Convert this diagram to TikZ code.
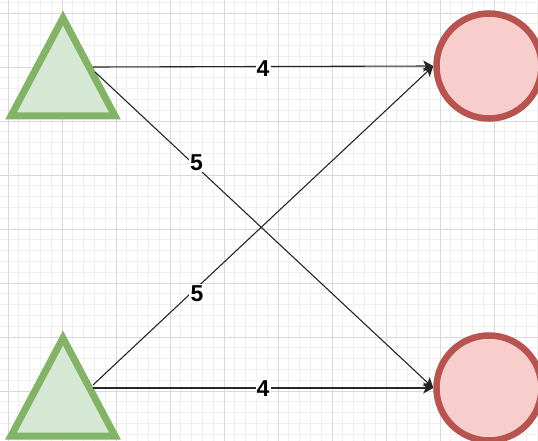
\documentclass[tikz,border=0pt]{standalone}
\usepackage{fontspec}
\setmainfont{Liberation Sans}
\usetikzlibrary{arrows.meta}
\definecolor{tfill}{HTML}{D5E8D4}
\definecolor{tdraw}{HTML}{82B366}
\definecolor{cfill}{HTML}{F8CECC}
\definecolor{cdraw}{HTML}{B85450}
\definecolor{gmajor}{HTML}{D8D8D8}
\definecolor{gminor}{HTML}{F0F0F0}
\tikzset{
  minorline/.style={draw=gminor, line width=0.8pt},
  majorline/.style={draw=gmajor, line width=0.8pt},
  tri/.style={draw=tdraw, fill=tfill, line width=7pt, line join=miter},
  circ/.style={circle, draw=cdraw, fill=cfill, line width=6.5pt, minimum size=105pt, inner sep=0pt},
  edge/.style={draw=black!85, line width=1.1pt, -{Stealth[length=10pt,width=11pt,inset=2.5pt]}},
  lbl/.style={fill=white, inner sep=1.2pt, font=\bfseries\fontsize{23}{23}\selectfont, text=black}
}
\begin{document}
\begin{tikzpicture}[x=1pt,y=-1pt]
\useasboundingbox (0,0) rectangle (538,441);
\begin{scope}
\clip (0,0) rectangle (538,441);
\fill[white] (0,0) rectangle (538,441);
% grid
\foreach \i in {0,...,50} {
  \draw[minorline] ({8+10.8*\i-10.8},0) -- ({8+10.8*\i-10.8},441);
  \draw[minorline] (0,{13+10.8*\i-10.8}) -- (538,{13+10.8*\i-10.8});
}
\foreach \i in {0,...,10} {
  \draw[majorline] ({8+54*\i},0) -- ({8+54*\i},441);
  \draw[majorline] (0,{13+54*\i}) -- (538,{13+54*\i});
}
% triangles
\draw[tri] (11,116) -- (63,18) -- (115,116) -- cycle;
\draw[tri] (11,436) -- (63,338) -- (115,436) -- cycle;
% circles
\node[circ] (c1) at (489,66) {};
\node[circ] (c2) at (489,388) {};
% connector start points
\coordinate (t1a) at (93,67);
\coordinate (t1b) at (95,72);
\coordinate (t2a) at (93,388);
\coordinate (t2b) at (93,385);
% edges
\draw[edge] (t1a) -- node[lbl, yshift=-2pt]{4} (c1.west);
\draw[edge] (t1b) -- node[lbl, pos=0.3, yshift=4pt]{5} (c2.west);
\draw[edge] (t2a) -- node[lbl, yshift=-1pt]{4} (c2.west);
\draw[edge] (t2b) -- node[lbl, pos=0.3, xshift=2pt, yshift=-4pt]{5} (c1.west);
\end{scope}
\end{tikzpicture}
\end{document}
